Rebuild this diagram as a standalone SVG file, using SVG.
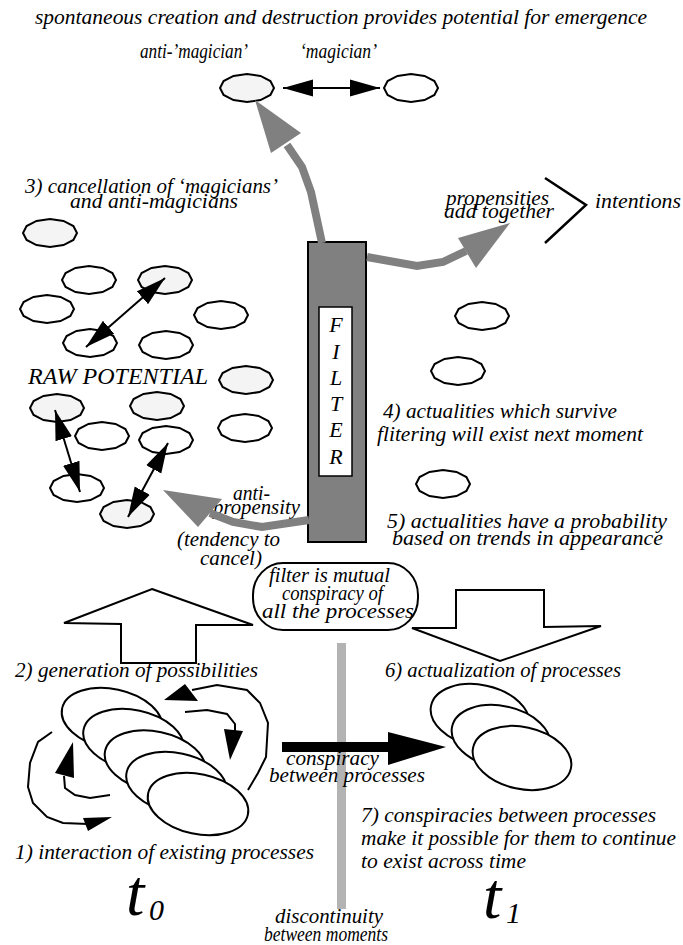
<svg xmlns="http://www.w3.org/2000/svg" width="683" height="945" viewBox="0 0 683 945">
<style>
.t{font-family:'Liberation Serif','DejaVu Serif','Noto Serif',serif;font-style:italic;font-size:20px;fill:#000}
.sm{font-size:20px}
.big{font-size:24px}
.fl{font-size:22px}
.tt{font-size:66px}
.sub{font-size:30px}
.ov{stroke:#000;stroke-width:2;fill:#fff}
.lt{fill:#f4f4f4}
.pr{stroke:#000;stroke-width:2;fill:#fff}
.g{stroke:#808080;stroke-width:8;fill:none;stroke-linejoin:miter}
.gh{fill:#808080}
.bl{stroke:#000;stroke-width:2;fill:none}
.da{stroke:#000;stroke-width:2;fill:none;marker-start:url(#ah);marker-end:url(#ah)}
.hl{stroke:#000;stroke-width:2;fill:#fff;stroke-linejoin:miter}
</style>
<defs>
<polygon id="blob" points="27,0 23.4,7 13.5,12.1 0,14 -13.5,12.1 -23.4,7 -27,0 -23.4,-7 -13.5,-12.1 0,-14 13.5,-12.1 23.4,-7"/>
<marker id="ah" markerUnits="userSpaceOnUse" markerWidth="30" markerHeight="18" refX="28" refY="8" orient="auto-start-reverse" viewBox="0 0 28 16"><path d="M0,0 L28,8 L0,16 z" fill="#000"/></marker>
</defs>

<g id="title" font-family="Liberation Serif, DejaVu Serif, serif"><text class="t" x="35" y="24" textLength="612" lengthAdjust="spacingAndGlyphs">spontaneous creation and destruction provides potential for emergence</text></g>
<g id="labels-top">
<text class="t sm" x="140" y="58" textLength="108" lengthAdjust="spacingAndGlyphs">anti-’magician’</text>
<text class="t sm" x="300" y="58" textLength="77" lengthAdjust="spacingAndGlyphs">‘magician’</text>
</g>
<g id="anti-magician"><use href="#blob" x="247" y="88" class="ov lt"/></g>
<g id="magician"><use href="#blob" x="411" y="88" class="ov"/></g>

<g id="cancel-label">
<text class="t" x="25" y="193" textLength="253" lengthAdjust="spacingAndGlyphs">3) cancellation of ‘magicians’</text>
<text class="t" x="70" y="208" textLength="168" lengthAdjust="spacingAndGlyphs">and anti-magicians</text>
</g>

<g id="raw-potential">
<use href="#blob" x="50" y="233" class="ov lt"/>
<use href="#blob" x="89" y="280" class="ov"/>
<use href="#blob" x="165" y="280" class="ov lt"/>
<use href="#blob" x="47" y="309" class="ov"/>
<use href="#blob" x="221" y="315" class="ov"/>
<use href="#blob" x="90" y="343" class="ov"/>
<use href="#blob" x="166" y="345" class="ov"/>
<use href="#blob" x="246" y="380" class="ov lt"/>
<use href="#blob" x="57" y="408" class="ov lt"/>
<use href="#blob" x="157" y="406" class="ov lt"/>
<use href="#blob" x="245" y="428" class="ov"/>
<use href="#blob" x="102" y="436" class="ov"/>
<use href="#blob" x="166" y="440" class="ov"/>
<use href="#blob" x="77" y="488" class="ov"/>
<use href="#blob" x="127" y="514" class="ov lt"/>
<text class="t big" x="28" y="384" textLength="180" lengthAdjust="spacingAndGlyphs">RAW POTENTIAL</text>
</g>

<g id="filter">
<rect x="308" y="242" width="58" height="300" fill="#808080" stroke="#000" stroke-width="2"/>
<rect x="319" y="307" width="33" height="169" fill="#fff" stroke="#000" stroke-width="1.5"/>
<text class="t fl" text-anchor="middle" x="336" y="332">F</text>
<text class="t fl" text-anchor="middle" x="336" y="359">I</text>
<text class="t fl" text-anchor="middle" x="336" y="385">L</text>
<text class="t fl" text-anchor="middle" x="336" y="411">T</text>
<text class="t fl" text-anchor="middle" x="336" y="437">E</text>
<text class="t fl" text-anchor="middle" x="336" y="464">R</text>
</g>

<g id="propensities">
<text class="t" x="446" y="205" textLength="103" lengthAdjust="spacingAndGlyphs">propensities</text>
<text class="t" x="444" y="218" textLength="110" lengthAdjust="spacingAndGlyphs">add together</text>
<polyline points="545,178 586,205 545,243" fill="none" stroke="#000" stroke-width="2.5"/>
<text class="t" x="595" y="208" textLength="86" lengthAdjust="spacingAndGlyphs">intentions</text>
</g>

<g id="actualities">
<use href="#blob" x="482" y="316" class="ov"/>
<use href="#blob" x="458" y="371" class="ov"/>
<use href="#blob" x="443" y="484" class="ov"/>
<text class="t" x="383" y="418" textLength="234" lengthAdjust="spacingAndGlyphs">4) actualities which survive</text>
<text class="t" x="377" y="441" textLength="266" lengthAdjust="spacingAndGlyphs">flitering will exist next moment</text>
<text class="t" x="387" y="528" textLength="280" lengthAdjust="spacingAndGlyphs">5) actualities have a probability</text>
<text class="t" x="392" y="545" textLength="271" lengthAdjust="spacingAndGlyphs">based on trends in appearance</text>
</g>

<g id="anti-propensity-label">
<text class="t" x="233" y="500" textLength="37" lengthAdjust="spacingAndGlyphs">anti-</text>
<text class="t" x="213" y="514" textLength="87" lengthAdjust="spacingAndGlyphs">propensity</text>
<text class="t" x="177" y="546" textLength="103" lengthAdjust="spacingAndGlyphs">(tendency to</text>
<text class="t" x="200" y="565" textLength="62" lengthAdjust="spacingAndGlyphs">cancel)</text>
</g>

<g id="conspiracy-box">
<rect x="253" y="563" width="165" height="67" rx="30" ry="32" fill="#fff" stroke="#000" stroke-width="2"/>
<text class="t" x="269" y="582" textLength="121" lengthAdjust="spacingAndGlyphs">filter is mutual</text>
<text class="t" x="282" y="600" textLength="101" lengthAdjust="spacingAndGlyphs">conspiracy of</text>
<text class="t" x="262" y="618" textLength="152" lengthAdjust="spacingAndGlyphs">all the processes</text>
</g>

<g id="up-arrow"><polygon class="hl" points="152,589 253,625 196,625 196,663 121,663 121,624 64,623"/></g>
<g id="down-arrow"><polygon class="hl" points="456,590 544,590 544,627 601,626 500,661 412,628 456,628"/></g>

<g id="discontinuity"><rect x="337" y="643" width="9" height="266" fill="#b3b3b3"/></g>

<g id="labels-mid">
<text class="t" x="15" y="677" textLength="243" lengthAdjust="spacingAndGlyphs">2) generation of possibilities</text>
<text class="t" x="385" y="677" textLength="236" lengthAdjust="spacingAndGlyphs">6) actualization of processes</text>
</g>

<g id="processes-t0">
<ellipse class="pr" cx="112" cy="719" rx="51" ry="30" transform="rotate(12 112 719)"/>
<ellipse class="pr" cx="133.5" cy="740" rx="51" ry="30" transform="rotate(12 133.5 740)"/>
<ellipse class="pr" cx="155" cy="761.5" rx="51" ry="30" transform="rotate(12 155 761.5)"/>
<ellipse class="pr" cx="176.5" cy="783" rx="51" ry="30" transform="rotate(12 176.5 783)"/>
<ellipse class="pr" cx="198" cy="804" rx="51" ry="30" transform="rotate(12 198 804)"/>
</g>

<g id="processes-t1">
<ellipse class="pr" cx="480" cy="716" rx="50" ry="31" transform="rotate(12 480 716)"/>
<ellipse class="pr" cx="501" cy="737" rx="50" ry="31" transform="rotate(12 501 737)"/>
<ellipse class="pr" cx="522" cy="758" rx="50" ry="31" transform="rotate(12 522 758)"/>
</g>

<g id="connectors">
<line class="da" x1="283" y1="88" x2="380" y2="88"/>
<line class="da" x1="165" y1="278" x2="86" y2="347"/>
<line class="da" x1="55" y1="410" x2="80" y2="492"/>
<line class="da" x1="168" y1="443" x2="128" y2="517"/>
<path class="g" d="M322,243 L311,192 L302,167 L287,145"/>
<polygon class="gh" points="255,100 271,153 301,133"/>
<path class="g" d="M367,257 L417,266 L443,262 L466,251"/>
<polygon class="gh" points="510,223 458,238 476,268"/>
<path class="g" d="M309,520 L262,527 L233,522 L210,513"/>
<polygon class="gh" points="163,490 198,527 222,499"/>
<rect x="282" y="742" width="108" height="10" fill="#000"/>
<polygon points="388,732 446,747 388,765" fill="#000"/>
<path class="bl" d="M248,790 L258,773 L266,757 L268,723 L260,703 L247,690 L217,685 L192,690"/>
<polygon points="164,700 185,684 198,701" fill="#000"/>
<path class="bl" d="M185,712 L207,710 L227,714 L235,724 L235,732"/>
<polygon points="230,760 224,729 243,731" fill="#000"/>
<path class="bl" d="M110,795 L90,798 L75,795 L65,788 L64,776"/>
<polygon points="73,742 55,773 74,778" fill="#000"/>
<path class="bl" d="M52,732 L38,742 L30,763 L28,787 L33,803 L47,817 L63,823 L88,824"/>
<polygon points="83,818 112,817 88,831" fill="#000"/>
</g>

<g id="conspiracy-label">
<text class="t" x="286" y="765" textLength="93" lengthAdjust="spacingAndGlyphs">conspiracy</text>
<text class="t" x="269" y="782" textLength="156" lengthAdjust="spacingAndGlyphs">between processes</text>
</g>

<g id="labels-bottom">
<text class="t" x="15" y="859" textLength="299" lengthAdjust="spacingAndGlyphs">1) interaction of existing processes</text>
<text class="t" x="361" y="822" textLength="295" lengthAdjust="spacingAndGlyphs">7) conspiracies between processes</text>
<text class="t" x="361" y="845" textLength="315" lengthAdjust="spacingAndGlyphs">make it possible for them to continue</text>
<text class="t" x="361" y="868" textLength="165" lengthAdjust="spacingAndGlyphs">to exist across time</text>
<text class="t" x="275" y="923" textLength="108" lengthAdjust="spacingAndGlyphs">discontinuity</text>
<text class="t" x="264" y="941" textLength="124" lengthAdjust="spacingAndGlyphs">between moments</text>
</g>

<g id="t0"><text class="t tt" x="126" y="915">t</text><text class="t sub" x="149" y="920">0</text></g>
<g id="t1"><text class="t tt" x="483" y="918">t</text><text class="t sub" x="506" y="923">1</text></g>
</svg>
